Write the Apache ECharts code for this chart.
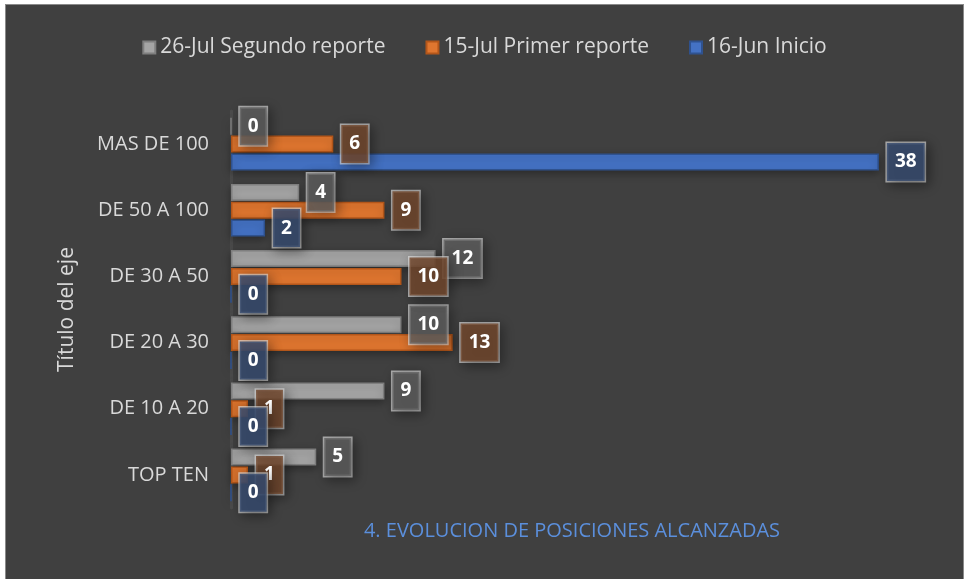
<!DOCTYPE html>
<html>
<head>
<meta charset="utf-8">
<script src="https://cdn.jsdelivr.net/npm/echarts@6/dist/echarts.min.js"></script>
<style>
  html, body { margin: 0; padding: 0; background: #ffffff; }
  #box { position: absolute; left: 5px; top: 4px; width: 959px; height: 580px;
         background: #404040; border: 1px solid #8a8a8a; box-sizing: border-box; }
  #chart { width: 100%; height: 100%; }
</style>
</head>
<body>
<div id="box"><div id="chart"></div></div>
<script>
  // categorias de abajo hacia arriba
  var categorias = ['TOP TEN', 'DE 10 A 20', 'DE 20 A 30', 'DE 30 A 50', 'DE 50 A 100', 'MAS DE 100'];
  var segundoReporte = [5, 9, 10, 12, 4, 0];   // 26-Jul
  var primerReporte = [1, 1, 13, 10, 9, 6];    // 15-Jul
  var inicio = [0, 0, 0, 0, 2, 38];            // 16-Jun

  var fuente = 'Open Sans';

  function etiqueta(fondo) {
    return {
      show: true,
      position: 'right',
      distance: 8,
      color: '#ffffff',
      fontFamily: fuente,
      fontWeight: 'bold',
      fontSize: 19,
      lineHeight: 22,
      backgroundColor: fondo,
      borderColor: 'rgba(230,230,230,0.65)',
      borderWidth: 1.5,
      padding: [8, 8],
      shadowColor: 'rgba(0,0,0,0.45)',
      shadowBlur: 12,
      shadowOffsetX: 3,
      shadowOffsetY: 3
    };
  }

  function serie(nombre, datos, color, borde, fondo) {
    return {
      name: nombre,
      type: 'bar',
      data: datos,
      barWidth: 17,
      barGap: '5%',
      itemStyle: {
        color: color,
        borderColor: borde,
        borderWidth: 1.5,
        shadowColor: 'rgba(0,0,0,0.35)',
        shadowBlur: 8,
        shadowOffsetY: 3
      },
      label: etiqueta(fondo)
    };
  }

  var chart = echarts.init(document.getElementById('chart'));
  chart.setOption({
    backgroundColor: 'transparent',
    animation: false,
    title: {
      text: '4. EVOLUCION DE POSICIONES ALCANZADAS',
      left: 561,
      top: 511,
      textAlign: 'center',
      textStyle: { color: '#5b8fdc', fontFamily: fuente, fontWeight: 'normal', fontSize: 20 }
    },
    legend: {
      top: 27,
      left: 'center',
      itemWidth: 12,
      itemHeight: 12,
      itemGap: 40,
      icon: 'rect',
      textStyle: { color: '#d9d9d9', fontFamily: fuente, fontSize: 21 },
      data: ['26-Jul Segundo reporte', '15-Jul Primer reporte', '16-Jun Inicio']
    },
    grid: { left: 225, right: 50, top: 106, bottom: 75 },
    xAxis: {
      type: 'value',
      min: 0,
      max: 40,
      show: false
    },
    yAxis: {
      type: 'category',
      data: categorias,
      name: 'Título del eje',
      nameLocation: 'middle',
      nameGap: 153,
      nameTextStyle: { color: '#d9d9d9', fontFamily: fuente, fontSize: 21 },
      axisLine: { show: true, lineStyle: { color: '#4c4c4c', width: 3 } },
      axisTick: { show: false },
      axisLabel: { color: '#d9d9d9', fontFamily: fuente, fontSize: 20, margin: 22 }
    },
    series: [
      serie('26-Jul Segundo reporte', segundoReporte, '#a5a5a5', '#7f7f7f', 'rgba(95,95,95,0.8)'),
      serie('15-Jul Primer reporte', primerReporte, '#e0762f', '#b3561a', 'rgba(115,72,45,0.82)'),
      serie('16-Jun Inicio', inicio, '#4472c4', '#2f528f', 'rgba(55,75,110,0.85)')
    ]
  });
</script>
</body>
</html>
